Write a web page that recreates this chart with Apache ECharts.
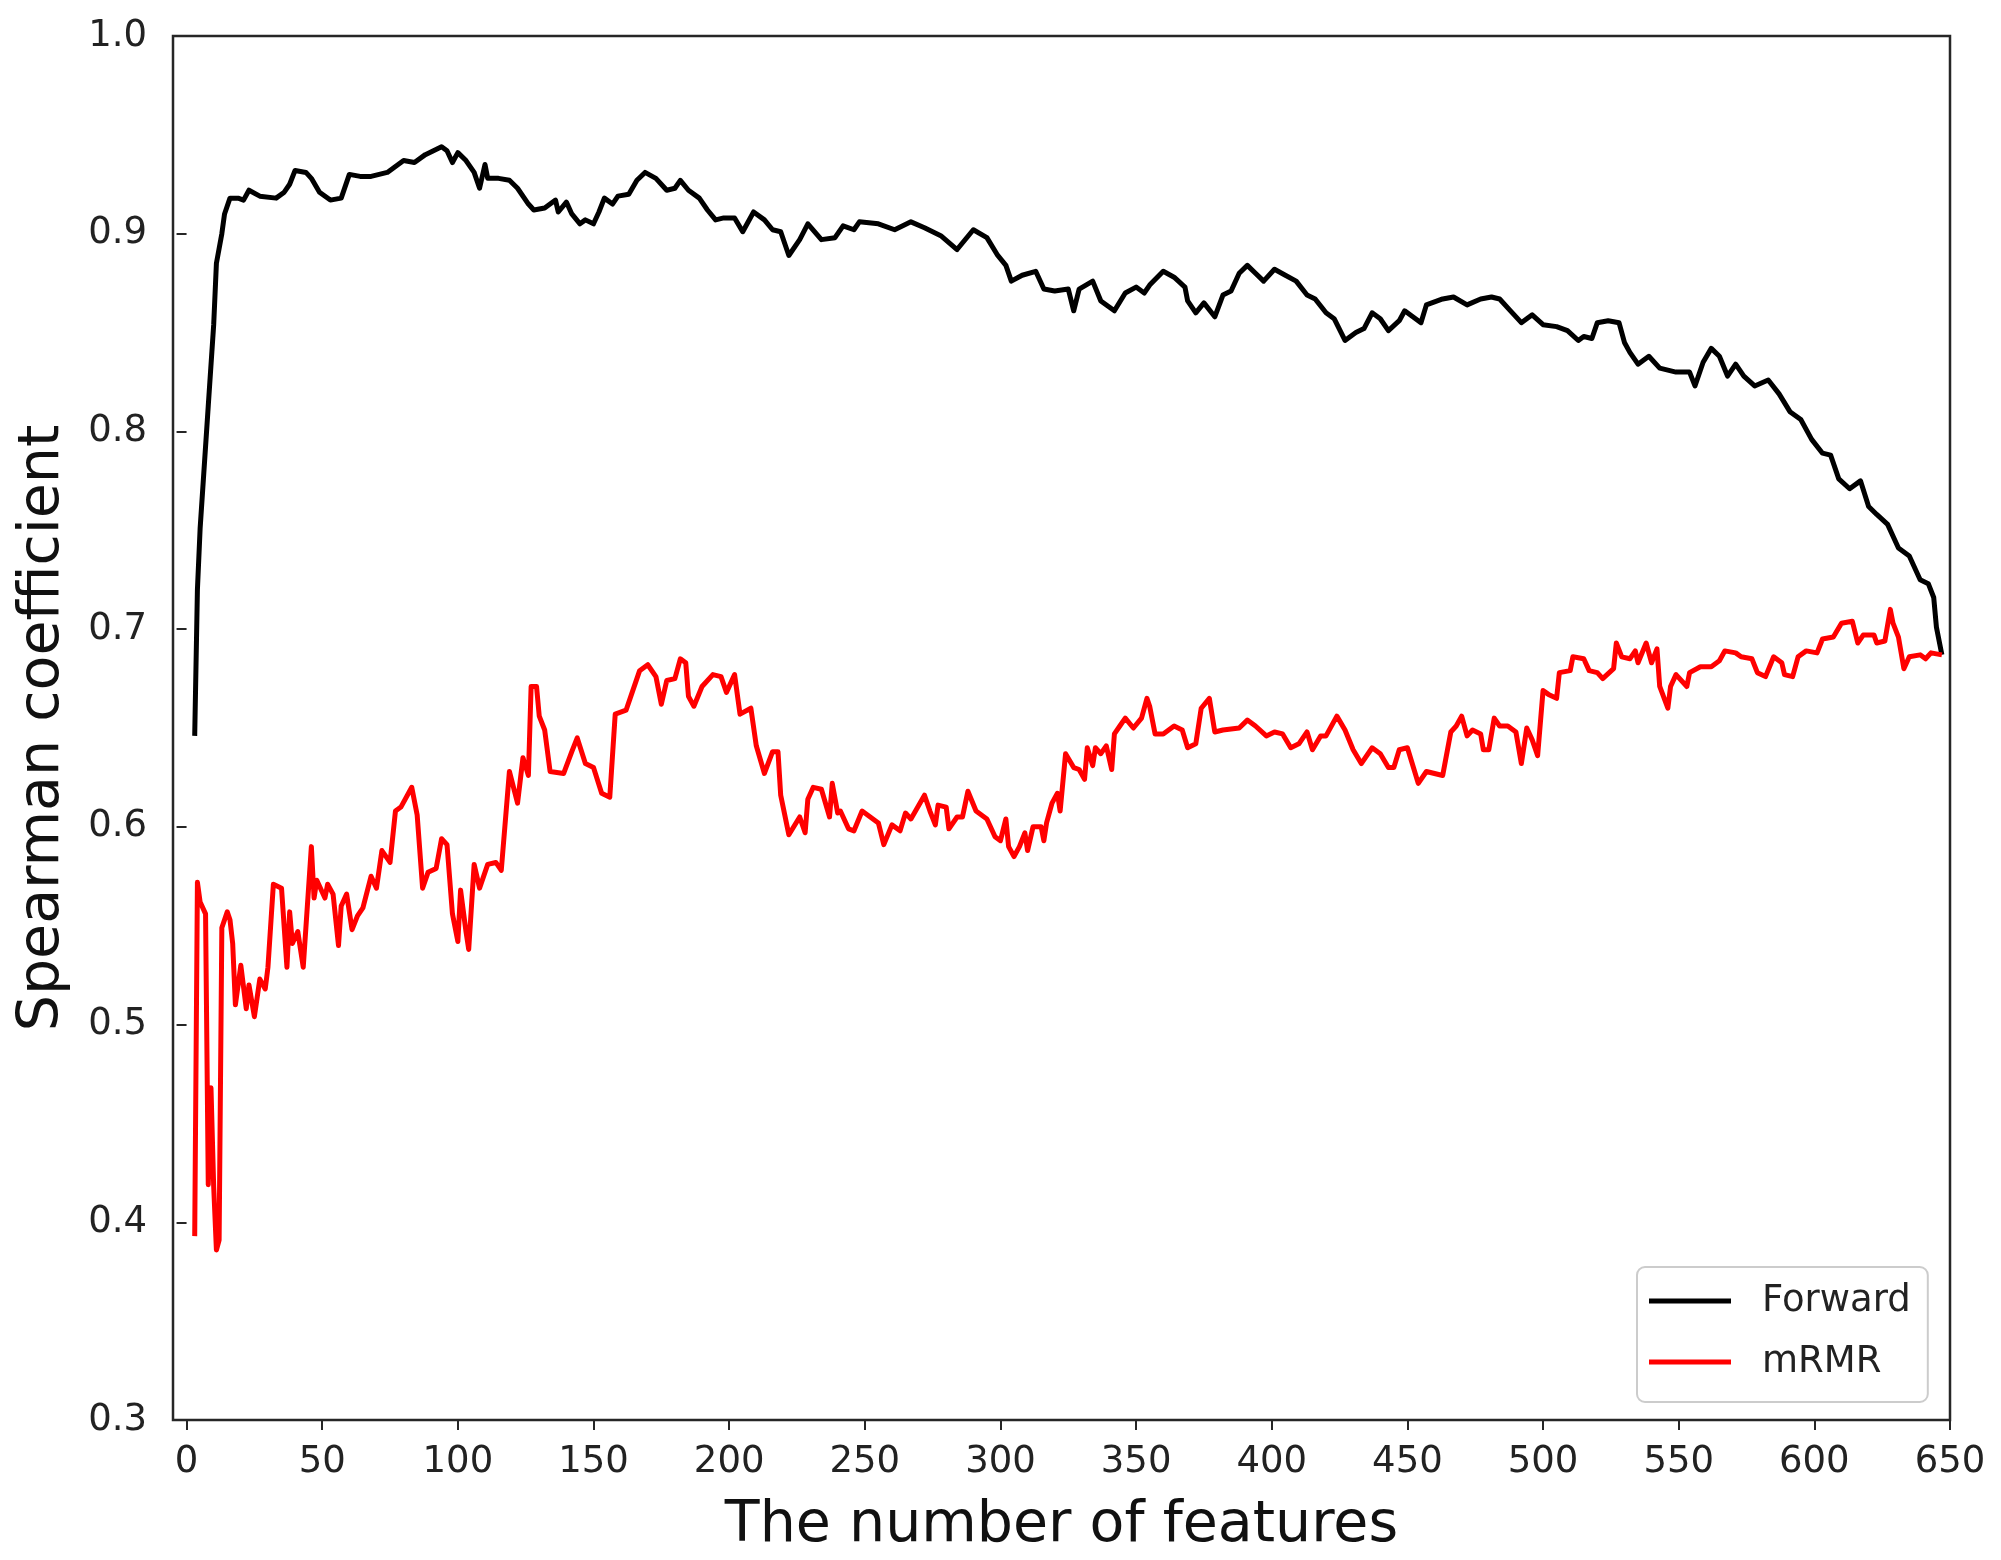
<!DOCTYPE html>
<html>
<head>
<meta charset="utf-8">
<script src="https://cdn.jsdelivr.net/npm/echarts@6/dist/echarts.min.js"></script>
<style>
html,body{margin:0;padding:0;background:#fff;}
#chart{width:2001px;height:1560px;}
</style>
</head>
<body>
<div id="chart"></div>
<script>
const xTicks = [0,50,100,150,200,250,300,350,400,450,500,550,600,650];
const seriesNames = ['Forward', 'mRMR'];

const forwardX = [3,4,5,8,10,11,13,14,16,19,21,23,27,33,36,38,40,44,46,49,53,57,60,64,68,74,78,80,84,88,94,96,98,100,103,106,108,110,111,115,119,122,126,128,132,136,137,140,142,145,147,150,152,154,157,159,163,166,169,173,177,180,182,185,189,192,195,198,202,205,209,213,216,219,222,226,229,234,239,242,246,248,255,261,267,272,278,284,290,295,299,302,304,308,313,316,320,325,327,329,334,337,342,346,350,353,355,360,364,368,369,372,375,379,382,385,388,391,394,397,401,405,409,413,416,420,423,427,431,434,437,440,443,447,449,455,457,463,467,472,477,481,484,488,492,496,500,505,509,513,515,518,520,524,528,530,532,535,539,543,549,554,556,559,562,565,568,571,574,578,583,587,591,595,599,603,606,609,613,617,620,623,627,631,635,639,642,644,645,647];
const forwardY = [0.646,0.720,0.751,0.813,0.854,0.885,0.900,0.910,0.918,0.918,0.917,0.922,0.919,0.918,0.921,0.925,0.932,0.931,0.928,0.921,0.917,0.918,0.930,0.929,0.929,0.931,0.935,0.937,0.936,0.940,0.944,0.942,0.936,0.941,0.937,0.931,0.923,0.935,0.928,0.928,0.927,0.923,0.915,0.912,0.913,0.917,0.911,0.916,0.910,0.905,0.907,0.905,0.911,0.918,0.915,0.919,0.920,0.927,0.931,0.928,0.922,0.923,0.927,0.922,0.918,0.912,0.907,0.908,0.908,0.901,0.911,0.907,0.902,0.901,0.889,0.897,0.905,0.897,0.898,0.904,0.902,0.906,0.905,0.902,0.906,0.903,0.899,0.892,0.902,0.898,0.889,0.884,0.876,0.879,0.881,0.872,0.871,0.872,0.861,0.872,0.876,0.866,0.861,0.870,0.873,0.870,0.874,0.881,0.878,0.873,0.866,0.860,0.865,0.858,0.869,0.871,0.880,0.884,0.880,0.876,0.882,0.879,0.876,0.869,0.867,0.860,0.857,0.846,0.850,0.852,0.860,0.857,0.851,0.856,0.861,0.855,0.864,0.867,0.868,0.864,0.867,0.868,0.867,0.861,0.855,0.859,0.854,0.853,0.851,0.846,0.848,0.847,0.855,0.856,0.855,0.845,0.840,0.834,0.838,0.832,0.830,0.830,0.823,0.835,0.842,0.838,0.828,0.834,0.828,0.823,0.826,0.819,0.810,0.806,0.796,0.789,0.788,0.776,0.771,0.775,0.762,0.758,0.753,0.741,0.737,0.725,0.723,0.716,0.701,0.687];

const mrmrX = [3,4,5,7,8,9,10,11,12,13,15,16,17,18,20,22,23,25,27,29,30,32,35,37,38,39,41,43,46,47,48,51,52,54,56,57,59,61,63,65,68,70,72,75,77,79,83,85,87,89,92,94,96,98,100,101,103,104,106,108,111,114,116,119,122,124,126,127,129,130,132,134,139,142,144,147,150,153,156,158,162,164,167,170,173,175,177,180,182,184,185,187,190,194,197,199,202,204,208,210,213,216,218,219,222,226,228,229,231,234,237,238,240,241,244,246,249,252,255,257,260,263,265,267,272,274,276,277,280,281,284,286,288,291,295,298,300,302,303,305,307,309,310,312,315,316,317,319,321,322,324,327,329,331,332,334,335,337,339,341,342,344,346,349,352,354,355,357,360,364,367,369,372,374,377,379,382,388,391,394,398,401,404,407,410,413,415,418,420,424,427,430,433,437,440,443,445,447,450,452,454,457,463,466,468,470,472,474,477,478,480,482,484,487,490,492,494,496,498,500,502,505,506,510,511,515,517,520,522,526,527,529,532,534,535,538,540,542,543,546,547,549,553,554,558,562,565,567,571,573,577,579,582,585,588,589,592,594,597,601,603,607,610,614,616,618,622,623,626,628,629,631,633,635,639,641,643,647];
const mrmrY = [0.393,0.572,0.562,0.556,0.419,0.468,0.418,0.386,0.391,0.549,0.557,0.553,0.541,0.510,0.530,0.508,0.520,0.504,0.523,0.518,0.529,0.571,0.569,0.529,0.557,0.541,0.547,0.529,0.590,0.564,0.573,0.564,0.571,0.566,0.540,0.560,0.566,0.548,0.555,0.559,0.575,0.569,0.588,0.582,0.608,0.610,0.620,0.606,0.569,0.577,0.579,0.594,0.591,0.556,0.542,0.568,0.547,0.538,0.581,0.569,0.581,0.582,0.578,0.628,0.612,0.635,0.626,0.671,0.671,0.656,0.649,0.628,0.627,0.638,0.645,0.632,0.630,0.617,0.615,0.657,0.659,0.667,0.679,0.682,0.676,0.662,0.674,0.675,0.685,0.683,0.666,0.661,0.671,0.677,0.676,0.668,0.677,0.657,0.660,0.641,0.627,0.638,0.638,0.616,0.596,0.605,0.597,0.614,0.620,0.619,0.605,0.622,0.607,0.608,0.599,0.598,0.608,0.605,0.602,0.591,0.601,0.598,0.607,0.604,0.616,0.608,0.601,0.611,0.610,0.599,0.605,0.605,0.618,0.608,0.604,0.595,0.593,0.604,0.590,0.585,0.590,0.597,0.588,0.600,0.600,0.593,0.602,0.612,0.617,0.608,0.637,0.630,0.629,0.624,0.640,0.631,0.640,0.637,0.641,0.629,0.647,0.651,0.655,0.650,0.655,0.665,0.661,0.647,0.647,0.651,0.649,0.640,0.642,0.660,0.665,0.648,0.649,0.650,0.654,0.651,0.646,0.648,0.647,0.640,0.642,0.648,0.639,0.646,0.646,0.656,0.649,0.639,0.632,0.640,0.637,0.630,0.630,0.639,0.640,0.631,0.622,0.628,0.626,0.648,0.651,0.656,0.646,0.649,0.647,0.639,0.639,0.655,0.651,0.651,0.648,0.632,0.650,0.644,0.636,0.669,0.667,0.665,0.678,0.679,0.686,0.685,0.679,0.678,0.675,0.680,0.693,0.686,0.685,0.689,0.683,0.693,0.683,0.690,0.671,0.660,0.671,0.677,0.671,0.678,0.681,0.681,0.684,0.689,0.688,0.686,0.685,0.678,0.676,0.686,0.683,0.677,0.676,0.686,0.689,0.688,0.695,0.696,0.703,0.704,0.693,0.697,0.697,0.693,0.694,0.710,0.703,0.696,0.680,0.686,0.687,0.685,0.688,0.687];

const zip = (xs, ys) => xs.map((x, i) => [x, ys[i]]);

const FONT = '"DejaVu Sans", "Liberation Sans", sans-serif';
const chart = echarts.init(document.getElementById('chart'), null, {renderer: 'canvas'});

chart.setOption({
  animation: false,
  backgroundColor: '#ffffff',
  grid: {
    left: 173, right: 51, top: 36, bottom: 140,
    containLabel: false,
    outerBoundsMode: 'none',
    show: true, borderColor: '#262626', borderWidth: 2.5,
    backgroundColor: 'transparent'
  },
  xAxis: {
    type: 'value',
    min: -5, max: 650,
    name: 'The number of features',
    nameLocation: 'middle',
    nameGap: 78,
    nameTextStyle: {fontFamily: FONT, fontSize: 57, color: '#111'},
    axisLine: {show: false},
    splitLine: {show: false},
    axisTick: {show: true, inside: false, length: 10, lineStyle: {color: '#262626', width: 2}, customValues: xTicks},
    axisLabel: {show: true, margin: 24, fontFamily: FONT, fontSize: 37, color: '#222', customValues: xTicks}
  },
  yAxis: {
    type: 'value',
    min: 0.3, max: 1.0, interval: 0.1,
    name: 'Spearman coefficient',
    nameLocation: 'middle',
    nameGap: 101,
    nameRotate: 90,
    nameTextStyle: {fontFamily: FONT, fontSize: 57, color: '#111'},
    axisLine: {show: false},
    splitLine: {show: false},
    axisTick: {show: true, inside: false, length: 10, lineStyle: {color: '#262626', width: 2}},
    axisLabel: {show: true, margin: 26, fontFamily: FONT, fontSize: 37, color: '#222',
      formatter: v => v.toFixed(1)}
  },
  legend: {
    orient: 'vertical',
    left: 1637, top: 1267,
    padding: [14, 17, 20, 12],
    itemGap: 21,
    itemWidth: 82,
    itemHeight: 5,
    icon: 'rect',
    backgroundColor: '#ffffff',
    borderColor: '#cccccc',
    borderWidth: 2,
    borderRadius: 8,
    textStyle: {fontFamily: FONT, fontSize: 37, color: '#222', lineHeight: 40, padding: [0, 0, 0, 26]},
    data: seriesNames
  },
  series: [
    {
      name: seriesNames[0], type: 'line', data: zip(forwardX, forwardY),
      showSymbol: false, symbol: 'none',
      lineStyle: {color: '#000000', width: 5, join: 'round'},
      itemStyle: {color: '#000000'}
    },
    {
      name: seriesNames[1], type: 'line', data: zip(mrmrX, mrmrY),
      showSymbol: false, symbol: 'none',
      lineStyle: {color: '#ff0000', width: 5, join: 'round'},
      itemStyle: {color: '#ff0000'}
    }
  ]
});
</script>
</body>
</html>
